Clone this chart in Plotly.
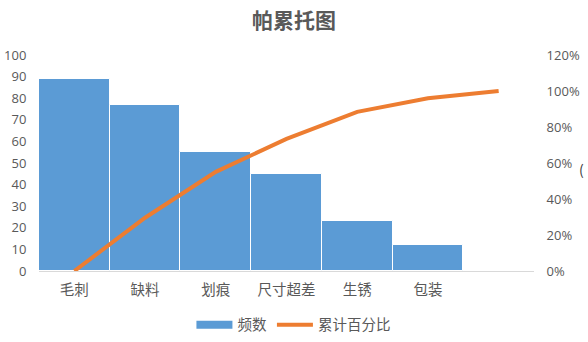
import plotly.graph_objects as go

categories = ["毛刺", "缺料", "划痕", "尺寸超差", "生锈", "包装", " "]
bar_cats = ["毛刺", "缺料", "划痕", "尺寸超差", "生锈", "包装"]
counts = [89, 77, 55, 45, 23, 12]
cum_pct = [0.0, 0.296, 0.551, 0.734, 0.884, 0.960, 1.0]

font_fam = "Open Sans, Noto Sans CJK SC, sans-serif"
gray = "#595959"
blue = "#5B9BD5"
orange = "#ED7D31"

fig = go.Figure()
fig.add_trace(go.Bar(
    x=bar_cats, y=counts, name="频数", showlegend=False,
    marker=dict(color=blue, line=dict(color="white", width=1)),
))
# legend entry for bars drawn as a wide block
fig.add_trace(go.Scatter(
    x=[None], y=[None], name="频数", mode="lines",
    line=dict(color=blue, width=8),
))
fig.add_trace(go.Scatter(
    x=categories, y=cum_pct, name="累计百分比", mode="lines",
    line=dict(color=orange, width=4), yaxis="y2",
))

fig.update_layout(
    width=588, height=342,
    margin=dict(l=39, r=54, t=55, b=71),
    paper_bgcolor="white", plot_bgcolor="white",
    font=dict(family=font_fam, color=gray, size=13),
    title=dict(text="<b>帕累托图</b>", x=0.5, xanchor="center", y=0.94, yanchor="middle",
               font=dict(family="Noto Sans CJK SC", size=21, color=gray)),
    bargap=0,
    showlegend=True,
    legend=dict(orientation="h", x=0.514, xanchor="center", yref="container",
                y=0.05, yanchor="middle",
                font=dict(family="Noto Sans CJK SC", size=14.5, color=gray),
                itemwidth=36),
    xaxis=dict(type="category", categoryorder="array", categoryarray=categories,
               range=[-0.5, 6.5], showgrid=False, showline=True, linecolor="#D9D9D9",
               linewidth=1, ticks="outside", ticklen=6, tickcolor="rgba(0,0,0,0)",
               automargin=False,
               tickfont=dict(family="Noto Sans CJK SC", size=14.5, color=gray)),
    yaxis=dict(range=[0, 100], dtick=10, showgrid=False, zeroline=False, showline=False,
               ticks="outside", ticklen=9, tickcolor="rgba(0,0,0,0)", automargin=False,
               tickfont=dict(size=13, color=gray)),
    yaxis2=dict(range=[0, 1.2], dtick=0.2, tickformat=".0%", overlaying="y", side="right",
                showgrid=False, zeroline=False, showline=False, automargin=False,
                ticks="outside", ticklen=9, tickcolor="rgba(0,0,0,0)",
                tickfont=dict(size=13, color=gray)),
    annotations=[dict(text="(", xref="paper", yref="paper", x=1.106, y=0.47,
                      xanchor="right", yanchor="middle", showarrow=False,
                      font=dict(family="Noto Sans CJK SC", size=14, color="#404040"))],
)

fig.write_html("out.html")
